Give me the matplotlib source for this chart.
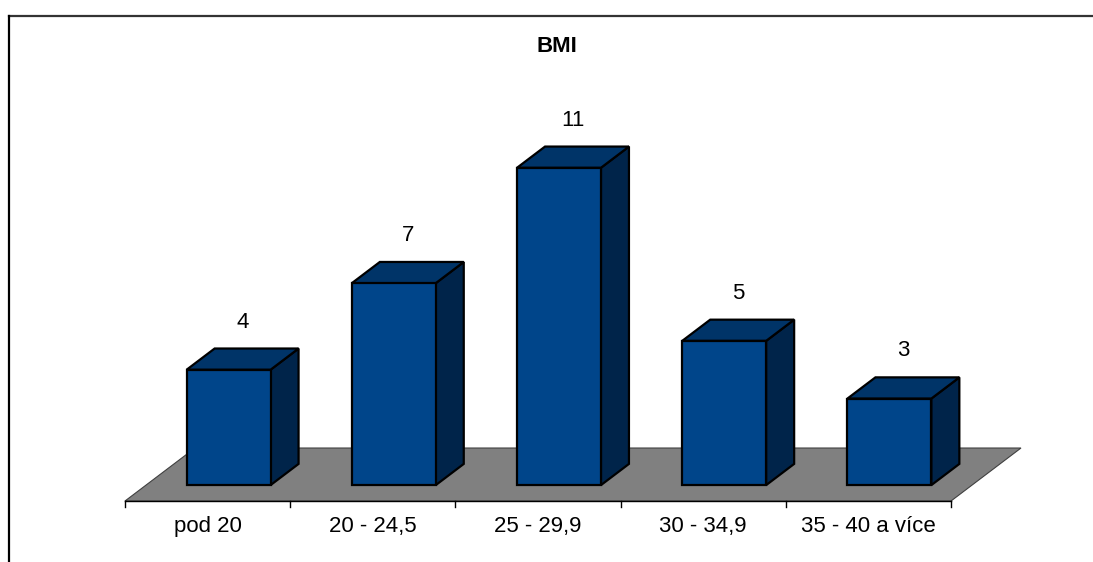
import matplotlib
matplotlib.use("Agg")
import matplotlib.pyplot as plt
from matplotlib.patches import Polygon
from matplotlib.lines import Line2D

# Chart data
categories = ["pod 20", "20 - 24,5", "25 - 29,9", "30 - 34,9", "35 - 40 a více"]
counts = [4, 7, 11, 5, 3]
title = "BMI"

# Oblique projection used for the pseudo-3D look
DX = 0.4237      # horizontal shift of full floor depth (category units)
DY = 1.837       # vertical shift of full floor depth (value units)
BAR_W = 0.508    # bar width in category units
BAR_D0, BAR_D1 = 0.3, 0.7   # bar depth range (fraction of floor depth)

FRONT = "#00458A"
TOP = "#003468"
SIDE = "#00244A"
FLOOR = "#808080"

plt.rcParams["font.family"] = ["Liberation Sans", "DejaVu Sans"]

fig = plt.figure(figsize=(10.93, 5.62), dpi=100)
ax = fig.add_axes([0, 0, 1, 1])
ax.set_xlim(-0.7567, 5.8596)
ax.set_ylim(-2.114, 17.366)
ax.axis("off")


def proj(x, v, d):
    return (x + d * DX, v + d * DY)


n = len(categories)

# Floor
floor = Polygon([proj(0, 0, 0), proj(n, 0, 0), proj(n, 0, 1), proj(0, 0, 1)],
                closed=True, facecolor=FLOOR, edgecolor="#404040", lw=0.8, zorder=1)
ax.add_patch(floor)

# Category axis line and tick marks
ax.plot([0, n], [0, 0], color="black", lw=1.0, zorder=2)
for i in range(n + 1):
    ax.plot([i, i], [0, -0.21], color="black", lw=1.0, zorder=2)

# Bars
for i, (cat, val) in enumerate(zip(categories, counts)):
    x0 = i + (1 - BAR_W) / 2
    x1 = x0 + BAR_W
    front = [proj(x0, 0, BAR_D0), proj(x1, 0, BAR_D0),
             proj(x1, val, BAR_D0), proj(x0, val, BAR_D0)]
    top = [proj(x0, val, BAR_D0), proj(x1, val, BAR_D0),
           proj(x1, val, BAR_D1), proj(x0, val, BAR_D1)]
    side = [proj(x1, 0, BAR_D0), proj(x1, 0, BAR_D1),
            proj(x1, val, BAR_D1), proj(x1, val, BAR_D0)]
    for pts, col in ((side, SIDE), (top, TOP), (front, FRONT)):
        ax.add_patch(Polygon(pts, closed=True, facecolor=col, edgecolor="black",
                             lw=1.6, joinstyle="miter", zorder=3 + i))

    # value label above the bar
    lx, ly = proj(i + 0.5, val, 0.5)
    ly = val + BAR_D1 * DY
    ax.annotate(str(val), (lx, ly), xytext=(0, 19), textcoords="offset points",
                ha="center", va="center", fontsize=16, color="black")

    # category label
    ax.text(i + 0.5, -0.867, cat, ha="center", va="center", fontsize=16, color="black")

# Title
fig.text(557 / 1093, 1 - 47 / 562, title, ha="center", va="center",
         fontsize=16, fontweight="bold")

# Frame lines (top and left)
fig.add_artist(Line2D([8.5 / 1093, 1.0], [1 - 15.5 / 562, 1 - 15.5 / 562],
                      color="#333333", lw=1.6, transform=fig.transFigure))
fig.add_artist(Line2D([8.5 / 1093, 8.5 / 1093], [0.0, 1 - 15.5 / 562],
                      color="black", lw=1.6, transform=fig.transFigure))

fig.savefig("out.png", dpi=100)
